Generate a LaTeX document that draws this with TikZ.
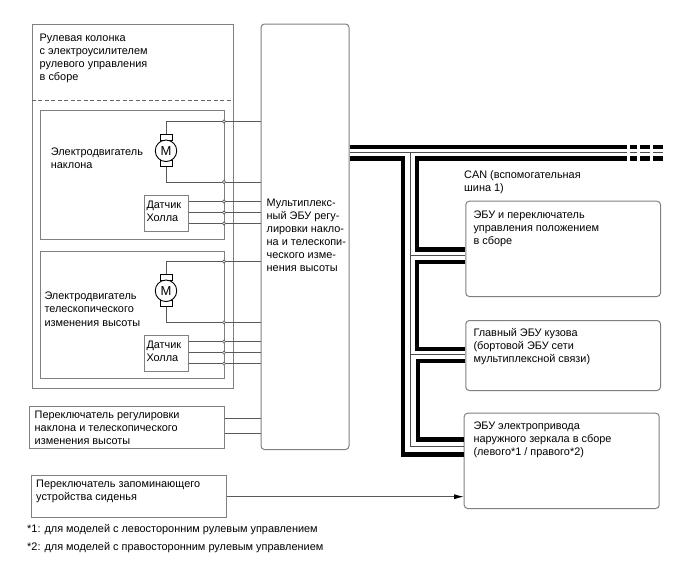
\documentclass[tikz,border=0pt]{standalone}
\usepackage{fontspec}
\setmainfont{Liberation Sans}
\usepackage{amsmath}
\usetikzlibrary{calc, arrows.meta}

\tikzset{
    txt/.style={anchor=north west, inner sep=0pt, align=left, font=\fontsize{10.9}{13.1}\selectfont},
    plainbox/.style={draw=black!50, line width=1pt, anchor=north west, inner sep=0pt},
    ecubox/.style={plainbox, rounded corners=3.5pt},
    wire/.style={draw=black!65, line width=.8pt},
    bus/.style={draw=black, line width=4.3pt},
    thinbus/.style={draw=black!70, line width=.9pt},
    joint/.style={draw=black!65, fill=white, circle, inner sep=0pt, minimum size=3.2pt, line width=.6pt},
}

\begin{document}
\begin{tikzpicture}[x=1pt, y=-1pt]

    \useasboundingbox (0, 0) rectangle (688, 560);

    % steering column assembly
    \node[plainbox, minimum width=201pt, minimum height=364.5pt] (column) at (31.5, 23.5) {};
    \draw[draw=black!60, line width=.8pt, dash pattern=on 4pt off 2.5pt] (column.west |- 0, 100) -- (column.east |- 0, 100);
    \node[txt] (columntxt) at (39.5, 33.5) {Рулевая колонка\\с электроусилителем\\рулевого управления\\в сборе};

    \node[plainbox, minimum width=184pt, minimum height=128.5pt] (unitA) at (40, 110) {};
    \node[plainbox, minimum width=184pt, minimum height=127.5pt] (unitB) at (40, 250.5) {};
    \node[txt] (unitAtxt) at (50.7, 147.5) {Электродвигатель\\наклона};
    \node[txt] (unitBtxt) at (44.3, 292) {Электродвигатель\\телескопического\\изменения высоты};

    % multiplex ecu
    \node[ecubox, minimum width=88pt, minimum height=425.5pt] (mux) at (260.5, 23.5) {};
    \node[txt] (muxtxt) at (266.5, 198.5) {Мультиплекс-\\ный ЭБУ регу-\\лировки накло-\\на и телескопи-\\ческого изме-\\нения высоты};

    % hall sensors
    \node[plainbox, minimum width=44.5pt, minimum height=36pt] (hallA) at (143.7, 194.7) {};
    \node[plainbox, minimum width=44.5pt, minimum height=36pt] (hallB) at (143.7, 334.5) {};
    \node[txt] (hallAtxt) at (146.3, 201) {Датчик\\Холла};
    \node[txt] (hallBtxt) at (146.3, 341) {Датчик\\Холла};

    % motors
    \foreach \m/\y in {A/150.8, B/290.8} {
        \node[draw=black, line width=.9pt, fill=white, minimum width=12pt, minimum height=6pt, inner sep=0pt] (brush\m t) at (166, \y-13) {};
        \node[draw=black, line width=.9pt, fill=white, minimum width=12pt, minimum height=6pt, inner sep=0pt] (brush\m b) at (166, \y+12.5) {};
        \node[draw=black, line width=.9pt, fill=white, circle, minimum size=21.5pt, inner sep=0pt, font=\fontsize{13}{13}\selectfont] (motor\m) at (166, \y) {M};
    }

    % wires towards the ecu, one joint on the unit border for each
    \foreach \n/\y in {a/121.5, b/182, c/201.5, d/212.5, e/223.5, f/261.5, g/322.3, h/341.7, i/352.7, j/363.7} {
        \node[joint] (pt\n) at (224, \y) {};
    }
    \foreach \n in {a, b, c, d, e, f, g, h, i, j}
        \draw[wire] (pt\n) -- (pt\n -| mux.west);

    \draw[wire] (pta) -| (brushAt.north);
    \draw[wire] (ptb) -| (brushAb.south);
    \draw[wire] (ptf) -| (brushBt.north);
    \draw[wire] (ptg) -| (brushBb.south);
    \foreach \n in {c, d, e}
        \draw[wire] (pt\n) -- (pt\n -| hallA.east);
    \foreach \n in {h, i, j}
        \draw[wire] (pt\n) -- (pt\n -| hallB.east);

    % switches
    \node[plainbox, minimum width=195pt, minimum height=42.3pt] (tiltsw) at (29, 406) {};
    \node[txt] (tiltswtxt) at (34.5, 410.5) {Переключатель регулировки\\наклона и телескопического\\изменения высоты};
    \draw[wire] (tiltsw.east |- 0, 418) -- (mux.west |- 0, 418);
    \draw[wire] (tiltsw.east |- 0, 433.3) -- (mux.west |- 0, 433.3);

    \node[plainbox, minimum width=195pt, minimum height=41.7pt] (seatsw) at (30.5, 475) {};
    \node[txt] (seatswtxt) at (36, 479.5) {Переключатель запоминающего\\устройства сиденья};

    % can side
    \node[txt] (cantxt) at (464, 170) {CAN (вспомогательная\\шина 1)};
    \node[ecubox, minimum width=194.7pt, minimum height=95.3pt] (ecuA) at (465.3, 200.7) {};
    \node[ecubox, minimum width=194.7pt, minimum height=70pt] (ecuB) at (465.3, 320) {};
    \node[ecubox, minimum width=195pt, minimum height=95.3pt] (ecuC) at (463.7, 412.7) {};
    \node[txt] (ecuAtxt) at (473.3, 210.5) {ЭБУ и переключатель\\управления положением\\в сборе};
    \node[txt] (ecuBtxt) at (473.3, 328.5) {Главный ЭБУ кузова\\(бортовой ЭБУ сети\\мультиплексной связи)};
    \node[txt] (ecuCtxt) at (473.3, 421.5) {ЭБУ электропривода\\наружного зеркала в сборе\\(левого*1 / правого*2)};

    \draw[wire, -{Latex[black, length=9.5pt, width=5pt]}] (seatsw.east |- 0, 496.7) -- (ecuC.west |- 0, 496.7);

    % bus trunk
    \draw[bus] (mux.east |- 0, 147) -- (626.7, 147);
    \draw[bus] (mux.east |- 0, 158.5) -- (403.3, 158.5) -- (403.3, 454.5) -- (ecuC.west |- 0, 454.5);
    \draw[bus] (626.7, 158.5) -- (416.9, 158.5) -- (416.9, 249.5) -- (ecuA.west |- 0, 249.5);
    \draw[bus] (ecuA.west |- 0, 262.3) -- (416.9, 262.3) -- (416.9, 348.7) -- (ecuB.west |- 0, 348.7);
    \draw[bus] (ecuB.west |- 0, 361) -- (417.7, 361) -- (417.7, 439.5) -- (ecuC.west |- 0, 439.5);

    \draw[thinbus] (mux.east |- 0, 152.7) -- (626.7, 152.7);
    \draw[thinbus] (410.7, 152.7) -- (410.7, 446.7) -- (ecuC.west |- 0, 446.7);
    \draw[thinbus] (410.7, 255.7) -- (ecuA.west |- 0, 255.7);
    \draw[thinbus] (410.7, 354.3) -- (ecuB.west |- 0, 354.3);

    % broken end of the bus
    \foreach \A/\B in {630/636.7, 640/650, 652.7/663.3} {
        \draw[bus] (\A, 147) -- (\B, 147);
        \draw[bus] (\A, 158.5) -- (\B, 158.5);
        \draw[thinbus] (\A, 152.7) -- (\B, 152.7);
    }

    % footnotes
    \node[txt] (noteA) at (27, 524.5) {*1: для моделей с левосторонним рулевым управлением};
    \node[txt] (noteB) at (27, 542) {*2: для моделей с правосторонним рулевым управлением};

\end{tikzpicture}
\end{document}
